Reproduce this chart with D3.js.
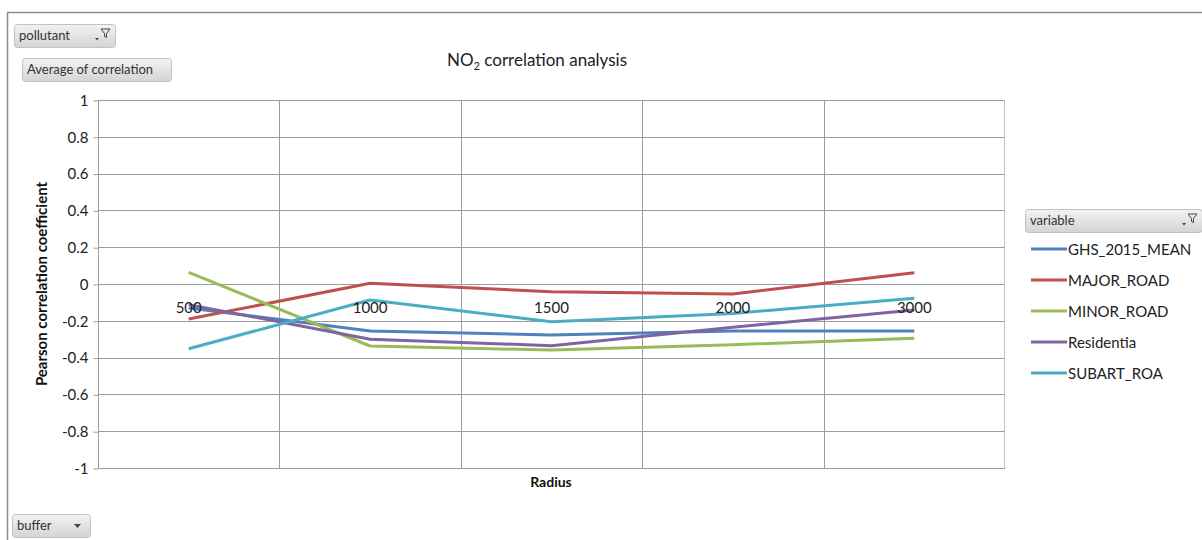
<!DOCTYPE html>
<html><head><meta charset="utf-8">
<script src="https://cdn.jsdelivr.net/npm/d3@7"></script>
<style>
html,body{margin:0;padding:0;background:#fff;}
svg{display:block;font-family:Lato,"Open Sans",sans-serif;}
</style></head>
<body>
<svg id="chart" width="1202" height="540"></svg>
<script>
const categories = ["500", "1000", "1500", "2000", "3000"];
const seriesNames = ["GHS_2015_MEAN", "MAJOR_ROAD", "MINOR_ROAD", "Residentia", "SUBART_ROA"];
const ghsMean   = [-0.13, -0.255, -0.277, -0.255, -0.255];
const majorRoad = [-0.19, 0.004, -0.042, -0.054, 0.061];
const minorRoad = [0.063, -0.337, -0.359, -0.330, -0.295];
const residentia = [-0.112, -0.300, -0.335, -0.235, -0.141];
const subartRoa = [-0.352, -0.087, -0.205, -0.160, -0.078];
const yTicks = [-1, -0.8, -0.6, -0.4, -0.2, 0, 0.2, 0.4, 0.6, 0.8, 1];
const seriesColors = ["#4F81BD", "#C0504D", "#9BBB59", "#8064A2", "#4BACC6"];

const seriesValues = [ghsMean, majorRoad, minorRoad, residentia, subartRoa];
const svg = d3.select("#chart");

const defs = svg.append("defs");
const grad = defs.append("linearGradient").attr("id","btn").attr("x1",0).attr("y1",0).attr("x2",0).attr("y2",1);
grad.append("stop").attr("offset","0%").attr("stop-color","#f2f2f2");
grad.append("stop").attr("offset","100%").attr("stop-color","#d4d4d4");

// outer frame
svg.append("path").attr("d","M7.5,540 V12.5 H1202").attr("fill","none").attr("stroke","#8a8a8a").attr("stroke-width",1.5);

const L = 98, R = 1005, T = 100, B = 468;
const x = d3.scaleBand().domain(categories).range([L, R]);
const y = d3.scaleLinear().domain([-1, 1]).range([B, T]);

svg.append("rect").attr("x",L+0.5).attr("y",T+0.5).attr("width",R-L-1).attr("height",B-T)
  .attr("fill","none").attr("stroke","#c4c4c4").attr("stroke-width",1);

svg.append("g").selectAll("line").data(yTicks).join("line")
  .attr("x1",L).attr("x2",R).attr("y1",d=>Math.round(y(d))+0.5).attr("y2",d=>Math.round(y(d))+0.5)
  .attr("stroke","#9c9c9c").attr("stroke-width",1);

svg.append("g").selectAll("line").data(categories.slice(1)).join("line")
  .attr("x1",d=>Math.round(x(d))+0.5).attr("x2",d=>Math.round(x(d))+0.5).attr("y1",T).attr("y2",B)
  .attr("stroke","#9c9c9c").attr("stroke-width",1);

const yAxis = d3.axisLeft(y).tickValues(yTicks).tickSize(5).tickPadding(5).tickFormat(d=>String(d));
const ya = svg.append("g").attr("transform",`translate(${L+0.5},0.5)`).call(yAxis);
ya.select(".domain").attr("stroke","#9c9c9c").attr("d",`M-0,${T}V${B}`);
ya.selectAll(".tick line").attr("stroke","#9c9c9c");
ya.selectAll(".tick text").attr("fill","#222").style("font-size","15px").style("font-family","Lato");

const line = d3.line().x((d,i)=>x(categories[i]) + x.bandwidth()/2).y(d=>y(d));
svg.append("g").selectAll("path").data(seriesValues).join("path")
  .attr("d",d=>line(d)).attr("fill","none")
  .attr("stroke",(d,i)=>seriesColors[i]).attr("stroke-width",3).attr("stroke-linejoin","round");

svg.append("g").selectAll("text").data(categories).join("text")
  .attr("x",d=>x(d)+x.bandwidth()/2).attr("y",313)
  .attr("text-anchor","middle").attr("fill","#222").style("font-size","15px").text(d=>d);

const title = svg.append("text").attr("x",537).attr("y",66).attr("text-anchor","middle")
  .attr("fill","#222").style("font-size","17px");
title.append("tspan").text("NO");
title.append("tspan").attr("dy",4).style("font-size","11px").text("2");
title.append("tspan").attr("dy",-4).text(" correlation analysis");

svg.append("text").attr("transform","translate(47,284) rotate(-90)").attr("text-anchor","middle")
  .attr("fill","#111").style("font-size","15px").style("font-weight","bold").text("Pearson correlation coefficient");
svg.append("text").attr("x",551).attr("y",487).attr("text-anchor","middle")
  .attr("fill","#111").style("font-size","14px").style("font-weight","bold").text("Radius");

function button(x0,y0,w,h,label,icon){
  const g = svg.append("g");
  g.append("rect").attr("x",x0+0.5).attr("y",y0+0.5).attr("width",w).attr("height",h).attr("rx",3)
    .attr("fill","url(#btn)").attr("stroke","#c2c2c2");
  g.append("text").attr("x",x0+5).attr("y",y0+h/2+4.5).attr("fill","#333").style("font-size","13px").text(label);
  if(icon==="filter"){
    const ix = x0+w-14, iy = y0+5;
    g.append("path").attr("d",`M${ix},${iy} h9 l-3.5,4.5 v4 l-2,-1 v-3 z`).attr("fill","none").attr("stroke","#444").attr("stroke-width",1);
    g.append("path").attr("d",`M${ix-6},${iy+9} h4 l-2,2.5 z`).attr("fill","#444");
  } else if(icon==="drop"){
    const ix = x0+w-16, iy = y0+h/2-1.5;
    g.append("path").attr("d",`M${ix},${iy} h7 l-3.5,4 z`).attr("fill","#444");
  }
}
button(14,24,101,23,"pollutant","filter");
button(22,58,149,23,"Average of correlation",null);
button(12,514,78,23,"buffer","drop");
button(1025,209,177,23,"variable","filter");

const lg = svg.append("g").selectAll("g").data(seriesNames).join("g")
  .attr("transform",(d,i)=>`translate(1031,${249 + i*31})`);
lg.append("line").attr("x1",0).attr("x2",36).attr("y1",0).attr("y2",0)
  .attr("stroke",(d,i)=>seriesColors[i]).attr("stroke-width",3);
lg.append("text").attr("x",37).attr("y",5.5).attr("fill","#222").style("font-size","15px").text(d=>d);
</script>
</body></html>
